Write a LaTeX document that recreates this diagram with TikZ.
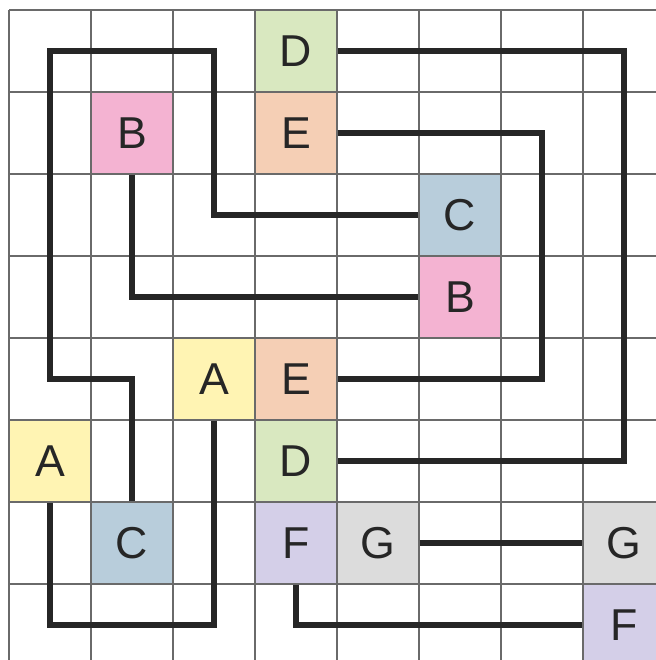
\documentclass[tikz,border=0pt]{standalone}
\usepackage{fontspec}
\setmainfont{Liberation Sans}
\usepackage{xcolor}
\usepackage{tikz}
\usetikzlibrary{positioning}
\definecolor{gridgray}{HTML}{6A6A6A}
\definecolor{wirecol}{HTML}{262626}
\definecolor{cA}{HTML}{FFF4B3}
\definecolor{cB}{HTML}{F4B3D2}
\definecolor{cC}{HTML}{B8CDDB}
\definecolor{cD}{HTML}{D9E8C0}
\definecolor{cE}{HTML}{F5CFB5}
\definecolor{cF}{HTML}{D4CFE8}
\definecolor{cG}{HTML}{DCDCDC}
\tikzset{
  cell/.style={draw=gridgray,line width=0.5pt,minimum size=1cm,inner sep=0pt,
    font=\fontsize{15.5}{18}\selectfont,text=wirecol},
  wire/.style={draw=wirecol,line width=1.75pt}
}

\begin{document}
\begin{tikzpicture}
  \useasboundingbox (-0.11,0.122) rectangle (7.89,-7.927);
  \clip (-0.11,0.122) rectangle (7.89,-7.927);
  \draw[gridgray,line width=0.5pt] (0,-8) grid (8,0);
  % coloured cells
  \node[cell,fill=cD] (d1) at (3.5,-0.5) {D};
  \node[cell,fill=cB] (b1) at (1.5,-1.5) {B};
  \node[cell,fill=cE] (e1) at (3.5,-1.5) {E};
  \node[cell,fill=cC] (c1) at (5.5,-2.5) {C};
  \node[cell,fill=cB] (b2) at (5.5,-3.5) {B};
  \node[cell,fill=cA] (a1) at (2.5,-4.5) {A};
  \node[cell,fill=cE] (e2) at (3.5,-4.5) {E};
  \node[cell,fill=cA] (a2) at (0.5,-5.5) {A};
  \node[cell,fill=cD] (d2) at (3.5,-5.5) {D};
  \node[cell,fill=cC] (c2) at (1.5,-6.5) {C};
  \node[cell,fill=cF] (f1) at (3.5,-6.5) {F};
  \node[cell,fill=cG] (g1) at (4.5,-6.5) {G};
  \node[cell,fill=cG] (g2) at (7.5,-6.5) {G};
  \node[cell,fill=cF] (f2) at (7.5,-7.5) {F};
  % connections
  \draw[wire] (d1) -| (7.5,-5.5) -- (d2);
  \draw[wire] (e1) -| (6.5,-4.5) -- (e2);
  \draw[wire] (c1) -| (2.5,-0.5) -| (0.5,-4.5) -| (c2);
  \draw[wire] (b1) |- (b2);
  \draw[wire] (a1) |- (0.5,-7.5) -- (a2);
  \draw[wire] (g1) -- (g2);
  \draw[wire] (f1) |- (f2);
\end{tikzpicture}
\end{document}
